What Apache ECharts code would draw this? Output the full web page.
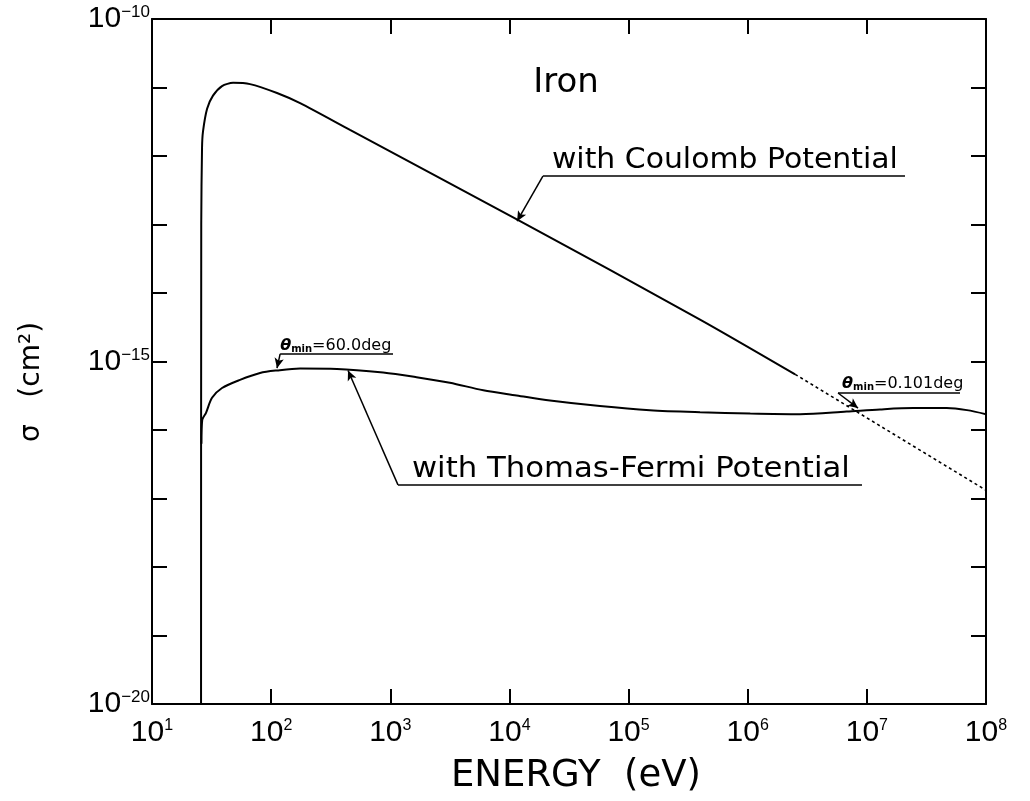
<!DOCTYPE html>
<html><head><meta charset="utf-8">
<script src="https://cdn.jsdelivr.net/npm/echarts@6/dist/echarts.min.js"></script>
<style>html,body{margin:0;padding:0;background:#fff}#c{width:1030px;height:801px}</style>
</head><body><div id="c"></div>
<script>
// ---- data (energy in eV, cross section in cm^2) ----
const coulombE     = [25.8, 25.9, 26.3, 26.8, 29.0, 32.5, 38.7, 47.9, 66.5, 112, 175, 459, 1.175e4, 3.98e5, 2.5e6];
const coulombSigma = [1e-20, 1e-13, 1.32e-12, 2.29e-12, 4.9e-12, 7.6e-12, 1.05e-11, 1.17e-11, 1.12e-11, 8.3e-12, 5.9e-12, 2.4e-12, 1.17e-13, 4.1e-15, 6.5e-16];
const coulombTailE     = [2.5e6, 1e8];
const coulombTailSigma = [6.5e-16, 1.32e-17];
const tfE     = [26.0, 26.4, 28.4, 31.9, 38.7, 54.8, 80.7, 112, 175, 357, 871, 1660, 3160, 6030, 1.15e4, 2.19e4, 5.75e4, 1.51e5, 3.98e5, 1.05e6, 2.75e6, 6.76e6, 1.29e7, 2.45e7, 4.68e7, 6.92e7, 1e8];
const tfSigma = [6.3e-17, 1.4e-16, 1.78e-16, 2.95e-16, 4.1e-16, 5.4e-16, 6.8e-16, 7.4e-16, 7.9e-16, 7.8e-16, 6.9e-16, 5.9e-16, 4.9e-16, 3.8e-16, 3.2e-16, 2.7e-16, 2.24e-16, 1.95e-16, 1.82e-16, 1.74e-16, 1.70e-16, 1.86e-16, 2.0e-16, 2.09e-16, 2.09e-16, 1.95e-16, 1.70e-16];
const xTickExponents = [1, 2, 3, 4, 5, 6, 7, 8];
const yLabelExponents = [-10, -15, -20];
const xRange = [10, 1e8];
const yRange = [1e-20, 1e-10];

// annotation anchors in data space [E, sigma]
const leaderLines = [
  [[1.91e4, 5.1e-13], [1.16e4, 1.12e-13]],
  [[1160, 1.58e-17], [442, 7.4e-16]],
  [[119, 1.29e-15], [112, 8.0e-16]],
  [[5.73e6, 3.47e-16], [8.43e6, 2.09e-16]]
];
const underLines = [
  [[1.91e4, 5.1e-13], [2.09e7, 5.1e-13]],
  [[1160, 1.58e-17], [9.1e6, 1.58e-17]],
  [[119, 1.29e-15], [1054, 1.29e-15]],
  [[5.73e6, 3.47e-16], [6.05e7, 3.47e-16]]
];
const labelTexts = {
  iron: 'Iron',
  coulomb: 'with Coulomb Potential',
  tf: 'with Thomas-Fermi Potential',
  theta60: '60.0deg',
  theta01: '0.101deg'
};
const ironAnchor = [2.99e4, 1.16e-11];

const FONT = 'DejaVu Sans';
const TFONT = 'Liberation Sans';
// y axis is a linear axis of log10(sigma) so that every decade gets a tick
const ly = v => Math.log10(v);
const pt = p => [p[0], ly(p[1])];
const zip = (a, b) => a.map((v, i) => [v, ly(b[i])]);
const expOf = v => Math.round(Math.log10(v));
const xRich = {
  b: {fontSize: 30, fontFamily: TFONT, color: '#000', lineHeight: 30, padding: [5, 0, 0, 0], verticalAlign: 'bottom'},
  s: {fontSize: 16, fontFamily: TFONT, color: '#000', lineHeight: 16, verticalAlign: 'top'}
};
const yRich = {
  b: {fontSize: 30, fontFamily: TFONT, color: '#000', lineHeight: 30, padding: [6, 0, 0, 0], verticalAlign: 'bottom'},
  s: {fontSize: 17, fontFamily: TFONT, color: '#000', lineHeight: 17, verticalAlign: 'top'}
};

const chart = echarts.init(document.getElementById('c'), null, {renderer: 'canvas'});
const axisLineStyle = {color: '#000', width: 2};
const tickStyle = {show: true, inside: true, length: 15, lineStyle: {color: '#000', width: 2}};
const baseX = {
  type: 'log', logBase: 10, min: xRange[0], max: xRange[1], splitNumber: 7,
  axisLine: {show: true, lineStyle: axisLineStyle},
  axisTick: tickStyle, minorTick: {show: false}, splitLine: {show: false}
};
const baseY = {
  type: 'value', min: ly(yRange[0]), max: ly(yRange[1]), interval: 1,
  axisLine: {show: true, lineStyle: axisLineStyle},
  axisTick: tickStyle, minorTick: {show: false}, splitLine: {show: false}
};

chart.setOption({
  animation: false,
  backgroundColor: '#fff',
  grid: {left: 152, right: 44, top: 19, bottom: 97, containLabel: false, outerBoundsMode: 'none'},
  xAxis: [
    Object.assign({}, baseX, {position: 'bottom', axisLabel: {
      show: true, margin: 14, showMinLabel: true, showMaxLabel: true,
      formatter: v => xTickExponents.includes(expOf(v)) ? '{b|10}{s|' + expOf(v) + '}' : '',
      rich: xRich
    }}),
    Object.assign({}, baseX, {position: 'top', axisLabel: {show: false}})
  ],
  yAxis: [
    Object.assign({}, baseY, {position: 'left', axisLabel: {
      show: true, margin: 2, showMinLabel: true, showMaxLabel: true,
      formatter: v => yLabelExponents.includes(Math.round(v)) ? '{b|10}{s|\u2212' + Math.abs(Math.round(v)) + '}' : '',
      rich: yRich
    }}),
    Object.assign({}, baseY, {position: 'right', axisLabel: {show: false}})
  ],
  series: [
    {type: 'line', name: 'Coulomb', data: zip(coulombE, coulombSigma), showSymbol: false, symbol: 'none',
     lineStyle: {color: '#000', width: 2}, smooth: 0.25},
    {type: 'line', name: 'CoulombTail', data: zip(coulombTailE, coulombTailSigma), showSymbol: false, symbol: 'none',
     lineStyle: {color: '#000', width: 1.6, type: [3, 3]}},
    {type: 'line', name: 'ThomasFermi', data: zip(tfE, tfSigma), showSymbol: false, symbol: 'none',
     lineStyle: {color: '#000', width: 2}, smooth: 0.3,
     markLine: {
       silent: true, animation: false, symbol: ['none', 'arrow'], symbolSize: [7, 10],
       label: {show: false}, emphasis: {disabled: true},
       lineStyle: {color: '#000', width: 1.5, type: 'solid'},
       data: leaderLines.map(p => [{coord: pt(p[0])}, {coord: pt(p[1])}])
         .concat(underLines.map(p => [{coord: pt(p[0]), symbol: 'none'}, {coord: pt(p[1]), symbol: 'none'}]))
     }}
  ]
});

const px = p => chart.convertToPixel({xAxisIndex: 0, yAxisIndex: 0}, pt(p));
const ironP = px(ironAnchor);
const cP = px(underLines[0][0]);
const tP = px(underLines[1][0]);
const t60 = px(underLines[2][0]);
const t01 = px(underLines[3][0]);
const thetaRich = {
  t: {fontSize: 16, fontFamily: FONT, fontStyle: 'italic', fontWeight: 'bold', fill: '#000'},
  m: {fontSize: 10, fontFamily: FONT, fontWeight: 'bold', fill: '#000', verticalAlign: 'bottom'},
  n: {fontSize: 16, fontFamily: FONT, fill: '#000'}
};
chart.setOption({
  graphic: [
    {type: 'text', x: ironP[0], y: ironP[1], style: {text: labelTexts.iron, fontSize: 34, fontFamily: FONT, fill: '#000', align: 'center', verticalAlign: 'middle'}},
    {type: 'text', x: cP[0] + 9, y: cP[1] - 1, scaleX: 1.03, style: {text: labelTexts.coulomb, fontSize: 29, fontFamily: FONT, fill: '#000', align: 'left', verticalAlign: 'bottom'}},
    {type: 'text', x: tP[0] + 14, y: tP[1] - 1, scaleX: 1.06, style: {text: labelTexts.tf, fontSize: 29, fontFamily: FONT, fill: '#000', align: 'left', verticalAlign: 'bottom'}},
    {type: 'text', x: t60[0], y: t60[1], style: {text: '{t|θ}{m|min}{n|=' + labelTexts.theta60 + '}', rich: thetaRich, align: 'left', verticalAlign: 'bottom'}},
    {type: 'text', x: t01[0] + 4, y: t01[1] - 1, style: {text: '{t|θ}{m|min}{n|=' + labelTexts.theta01 + '}', rich: thetaRich, align: 'left', verticalAlign: 'bottom'}},
    {type: 'text', x: 32, y: 382, rotation: Math.PI / 2, style: {text: 'σ   (cm²)', fontSize: 28, fontFamily: FONT, fill: '#000', align: 'center', verticalAlign: 'middle'}},
    {type: 'text', x: 576, y: 776, scaleX: 1.0, style: {text: 'ENERGY  (eV)', fontSize: 37, fontFamily: FONT, fill: '#000', align: 'center', verticalAlign: 'middle'}}
  ]
});
</script></body></html>
